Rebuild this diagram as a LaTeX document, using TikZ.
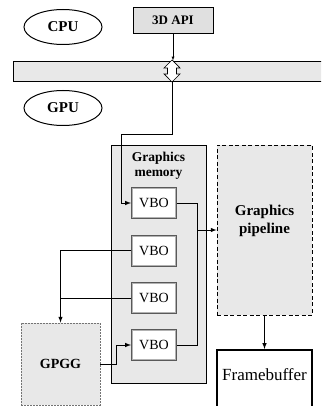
\documentclass[tikz,border=0pt]{standalone}
\usepackage{fontspec}
\setmainfont{Liberation Serif}
\usepackage{tikz}
\usetikzlibrary{shapes.geometric}
\usetikzlibrary{shapes.arrows}
\usetikzlibrary{arrows}

\newcommand{\fs}[1]{\fontsize{#1}{#1}\selectfont}

\begin{document}
\begin{tikzpicture}[x=1pt, y=-1pt,
        box/.style = {draw, rectangle, inner sep=0pt, line width=0.8pt},
        oval/.style = {draw, ellipse, inner sep=0pt, line width=1pt,
            minimum width=78pt, minimum height=35pt, font=\fs{15}\bfseries},
        vbo/.style = {draw=black!65, rectangle, inner sep=0pt, line width=2pt,
            fill=white, minimum width=44pt, minimum height=30pt, font=\fs{14}},
        link/.style = {line width=1pt},
        arr/.style = {link, -latex}]
        \clip (0, 0) rectangle (321, 406);
        \useasboundingbox (0, 0) rectangle (321, 406);

        \node[oval] (cpu) at (63, 27) {CPU};
        \node[oval] (gpu) at (63, 108) {GPU};
        \node[box, fill=black!12, minimum width=80pt, minimum height=26pt,
            font=\fs{13}\bfseries] (api) at (173, 20) {3D API};
        \node[box, fill=black!9, minimum width=320pt, minimum height=20pt]
            (bus) at (173, 71) {};
        \node[double arrow, draw, fill=white, shape border rotate=90,
            minimum height=22pt, minimum width=16pt, inner sep=3.5pt,
            double arrow head extend=3pt, line width=0.7pt] (io) at (172, 71) {};

        % graphics card
        \node[box, fill=black!9, minimum width=95pt, minimum height=238pt]
            (mem) at (158.5, 264) {};
        \node[font=\fs{13.5}\bfseries, align=center] (memlbl) at (158.5, 166)
            {Graphics\\[2pt]memory};
        \node[vbo] (vbo1) at (154, 203) {VBO};
        \node[vbo] (vbo2) at (154, 250.5) {VBO};
        \node[vbo] (vbo3) at (154, 298) {VBO};
        \node[vbo] (vbo4) at (154, 345) {VBO};
        \foreach \v in {vbo1, vbo2, vbo3, vbo4}
            \draw[black!30, line width=0.5pt] ([shift={(1.6, 1.6)}]\v.north west)
                rectangle ([shift={(-1.6, -1.6)}]\v.south east);

        \node[box, dash pattern=on 4pt off 2.5pt, fill=black!9, minimum width=95pt,
            minimum height=170pt] (pipe) at (264.5, 230) {};
        \node[font=\fs{15}\bfseries, align=center] (pipelbl) at (264.5, 221)
            {Graphics\\[3pt]pipeline};
        \node[box, dash pattern=on 2pt off 1pt, draw=black!55, fill=black!9,
            minimum width=79pt, minimum height=82pt, font=\fs{14}\bfseries]
            (gpgg) at (60.5, 364) {GPGG};
        \node[box, line width=2pt, minimum width=95pt, minimum height=70pt]
            (fb) at (264.5, 385) {};
        \node[font=\fs{17}] (fblbl) at (264.5, 375) {Framebuffer};

        \coordinate (join) at (197, 230);

        \draw[link, -latex, line width=0.4pt] (api.south) -- (api.south |- bus.north);
        \draw[arr] (io.south |- bus.south) |- (121, 135) |- (vbo1.west);
        \draw[link] (vbo1.east) -| (join);
        \draw[link] (vbo4.east) -| (join);
        \draw[arr] (join) -- (pipe.west);
        \draw[arr] (vbo2.west) -| (gpgg.north);
        \draw[link] (vbo3.west) -- (vbo3.west -| gpgg.north);
        \draw[arr] (gpgg.east) -| (116, 345) -- (vbo4.west);
        \draw[arr] (pipe.south) -- (fb.north);
    \end{tikzpicture}
\end{document}
